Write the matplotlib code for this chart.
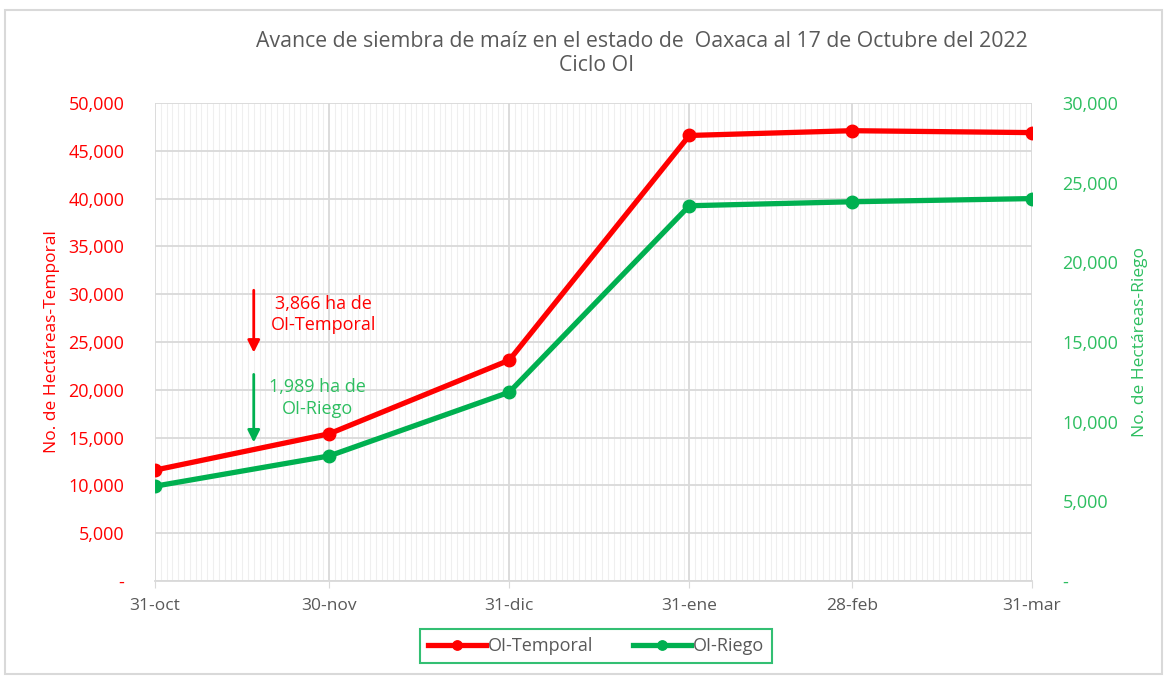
import matplotlib.pyplot as plt
import matplotlib.dates as mdates
from matplotlib.patches import Rectangle
import numpy as np
import pandas as pd

# datos
fechas = ['2022-10-31', '2022-11-30', '2022-12-31', '2023-01-31', '2023-02-28', '2023-03-31']
etiquetas = ['31-oct', '30-nov', '31-dic', '31-ene', '28-feb', '31-mar']
temporal = [11600, 15400, 23100, 46600, 47100, 46900]
riego = [5950, 7850, 11850, 23550, 23800, 24000]
yticks_izq = [0, 5000, 10000, 15000, 20000, 25000, 30000, 35000, 40000, 45000, 50000]
yticks_der = [0, 5000, 10000, 15000, 20000, 25000, 30000]

ROJO = '#FF0000'
VERDE = '#00B050'
VERDE_TXT = '#2DBE60'
GRIS = '#595959'

plt.rcParams['font.family'] = ['Open Sans', 'DejaVu Sans']

dates = pd.to_datetime(fechas)

fig = plt.figure(figsize=(11.69, 6.77), dpi=100)
ax = fig.add_axes([0.1326, 0.1418, 0.8828 - 0.1326, 0.8479 - 0.1418])
ax2 = ax.twinx()

# marco exterior
fig.patches.append(Rectangle((0.004, 0.004), 0.99, 0.981, transform=fig.transFigure,
                             fill=False, edgecolor='#D9D9D9', lw=1.5))

l1, = ax.plot(dates, temporal, '-o', color=ROJO, lw=3.8, ms=9, label='OI-Temporal', zorder=5)
l2, = ax2.plot(dates, riego, '-o', color=VERDE, lw=3.8, ms=9, label='OI-Riego', zorder=5)

ax.set_xlim(dates[0], dates[-1])
ax.set_ylim(0, 50000)
ax2.set_ylim(0, 30000)

# rejilla diaria + mensual
ax.xaxis.set_minor_locator(mdates.DayLocator())
ax.set_xticks(dates)
ax.set_xticklabels(etiquetas)
ax.grid(which='minor', axis='x', color='#EFEFEF', lw=0.8)
ax.grid(which='major', axis='x', color='#D9D9D9', lw=1.3)
ax.grid(which='major', axis='y', color='#D9D9D9', lw=1.3)
ax.set_axisbelow(True)
ax.tick_params(axis='x', which='minor', length=0)
ax.tick_params(axis='x', which='major', length=5, color='#D9D9D9', colors=GRIS, labelsize=12.5, pad=7)

fmt = lambda v: '-' if v == 0 else f'{v:,.0f}'
ax.set_yticks(yticks_izq)
ax.set_yticklabels([fmt(v) for v in yticks_izq])
ax2.set_yticks(yticks_der)
ax2.set_yticklabels([fmt(v) for v in yticks_der])
ax.tick_params(axis='y', length=0, colors=ROJO, labelsize=13, pad=22)
ax2.tick_params(axis='y', length=0, colors=VERDE_TXT, labelsize=13, pad=22)

for a in (ax, ax2):
    for s in a.spines.values():
        s.set_visible(False)
ax.spines['bottom'].set_visible(True)
ax.spines['bottom'].set_color('#D9D9D9')
ax.spines['bottom'].set_linewidth(1.3)

ax.set_ylabel('No. de Hectáreas-Temporal', color=ROJO, fontsize=12.5, labelpad=6)
ax2.set_ylabel('No. de Hectáreas-Riego', color=VERDE_TXT, fontsize=12.5, labelpad=10)

fig.text(0.549, 0.938, 'Avance de siembra de maíz en el estado de  Oaxaca al 17 de Octubre del 2022',
         ha='center', va='center', fontsize=15.3, color=GRIS)
fig.text(0.51, 0.903, 'Ciclo OI', ha='center', va='center', fontsize=15.3, color=GRIS)

# flechas y anotaciones
xf = pd.Timestamp('2022-11-17')
ax.annotate('', xy=(xf, 23600), xytext=(xf, 30700),
            arrowprops=dict(arrowstyle='-|>', color=ROJO, lw=2, mutation_scale=18))
ax.annotate('', xy=(xf, 14200), xytext=(xf, 21900),
            arrowprops=dict(arrowstyle='-|>', color=VERDE, lw=2, mutation_scale=18))
ax.text(pd.Timestamp('2022-11-29'), 27900, '3,866 ha de\nOI-Temporal', color=ROJO,
        ha='center', va='center', fontsize=13, linespacing=1.25)
ax.text(pd.Timestamp('2022-11-28'), 19150, '1,989 ha de\nOI-Riego', color=VERDE_TXT,
        ha='center', va='center', fontsize=13, linespacing=1.25)

leg = fig.legend(handles=[l1, l2], loc='center', bbox_to_anchor=(0.51, 0.046), ncol=2,
                 fontsize=13, frameon=True, fancybox=False, handlelength=3.2,
                 columnspacing=2.2, handletextpad=0.1, borderpad=0.45, borderaxespad=0,
                 markerscale=0.75)
leg.get_frame().set_edgecolor(VERDE)
leg.get_frame().set_linewidth(1.5)
for t in leg.get_texts():
    t.set_color(GRIS)

fig.savefig('out.png', dpi=100)
